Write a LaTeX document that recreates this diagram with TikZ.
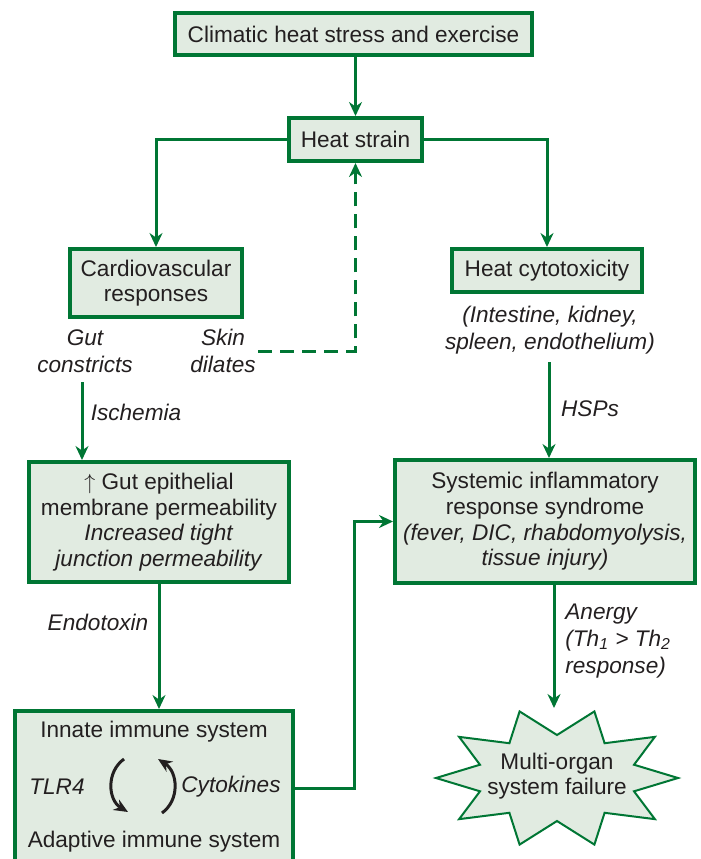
\documentclass[tikz,border=0pt]{standalone}
\usepackage{fontspec}
\setmainfont{Liberation Sans}
\usetikzlibrary{arrows.meta}
\definecolor{flowgreen}{RGB}{0,118,52}
\definecolor{boxfill}{RGB}{225,235,225}
\definecolor{inktext}{RGB}{35,31,32}

\begin{document}
\begin{tikzpicture}[x=0.5pt,y=-0.5pt,
 every node/.style={font=\fontsize{11.3}{12.8}\selectfont,text=inktext},
 box/.style={draw=flowgreen,line width=2pt,fill=boxfill,align=center,inner sep=0pt},
 arr/.style={draw=flowgreen,line width=1.5pt,-{Stealth[length=7pt,width=6.5pt]}},
 lbl/.style={font=\fontsize{11.3}{13.5}\selectfont\itshape,align=center,inner sep=1pt},
 cyc/.style={draw=inktext,line width=1.5pt,-{Stealth[length=7pt,width=6pt]}}]
\useasboundingbox (0,0) rectangle (701,859);
\clip (0,0) rectangle (701,859);

% boxes
\node [box,minimum width=178.5pt,minimum height=21pt] (stress) at (353.5,34) {Climatic heat stress and exercise};
\node [box,minimum width=66.5pt,minimum height=21.5pt] (strain) at (355.5,139.5) {Heat strain};
\node [box,minimum width=86pt,minimum height=34pt] (cardio) at (156,283) {Cardiovascular\\responses};
\node [box,minimum width=95pt,minimum height=21.5pt] (cyto) at (547,270.5) {Heat cytotoxicity};
\node [box,minimum width=130pt,minimum height=60pt] (gut) at (159,522)
 {$\uparrow$ Gut epithelial\\membrane permeability\\\textit{Increased tight}\\\textit{junction permeability}};
\node [box,minimum width=150pt,minimum height=61.5pt] (sirs) at (545,521.5)
 {Systemic inflammatory\\response syndrome\\\textit{(fever, DIC, rhabdomyolysis,}\\\textit{tissue injury)}};
\node [box,minimum width=139pt,minimum height=77pt] (immune) at (154,788) {};
\node (innate) at (154,732) {Innate immune system};
\node (adaptive) at (154,842) {Adaptive immune system};

% star
\begin{scope}[shift={(557,778)}]
\draw [draw=flowgreen,line width=1pt,fill=boxfill] (0:121 and 70)
 \foreach \a in {36,72,...,324}{ -- (\a-18:81 and 43) -- (\a:121 and 70)} -- (342:81 and 43) -- cycle;
\end{scope}
\node [align=center] (mosf) at (557,776) {Multi-organ\\system failure};

% labels
\node [lbl] (gutc) at (85,351) {Gut\\constricts};
\node [lbl] (skin) at (223,351) {Skin\\dilates};
\node [lbl] (isch) at (136,412) {Ischemia};
\node [lbl] (endo) at (98,622) {Endotoxin};
\node [lbl] (organs) at (550,330) {(Intestine, kidney,\\spleen, endothelium)};
\node [lbl] (hsps) at (590,409) {HSPs};
\node [lbl,align=left,anchor=west] (anergy) at (563,641) {Anergy\\(Th\textsubscript{1} > Th\textsubscript{2}\\response)};
\node [lbl] (tlr) at (57,787) {TLR4};
\node [lbl] (cytok) at (231,787) {Cytokines};

% connectors
\coordinate (ischtop) at (82,382);
\coordinate (hsptop) at (549,362);
\coordinate (mosftop) at (554,708);
\draw [arr] (stress.south -| strain.north) -- (strain.north);
\draw [arr] (strain.west) -| (cardio.north);
\draw [arr] (strain.east) -| (cyto.north);
\draw [arr,dashed,dash pattern=on 7pt off 4pt] (skin.east) -| (strain.south);
\draw [arr] (ischtop) -- (ischtop |- gut.north);
\draw [arr] (gut.south) -- (gut.south |- immune.north);
\draw [arr] (hsptop) -- (hsptop |- sirs.north);
\draw [arr] (sirs.south -| mosftop) -- (mosftop);
\draw [arr] (immune.east) -- ++(59,0) |- (sirs.west);

% feedback loop
\draw [cyc] (124,759) .. controls (106,772) and (108,800) .. (128,812);
\draw [cyc] (162,813) .. controls (180,800) and (178,772) .. (158,759);
\end{tikzpicture}
\end{document}
